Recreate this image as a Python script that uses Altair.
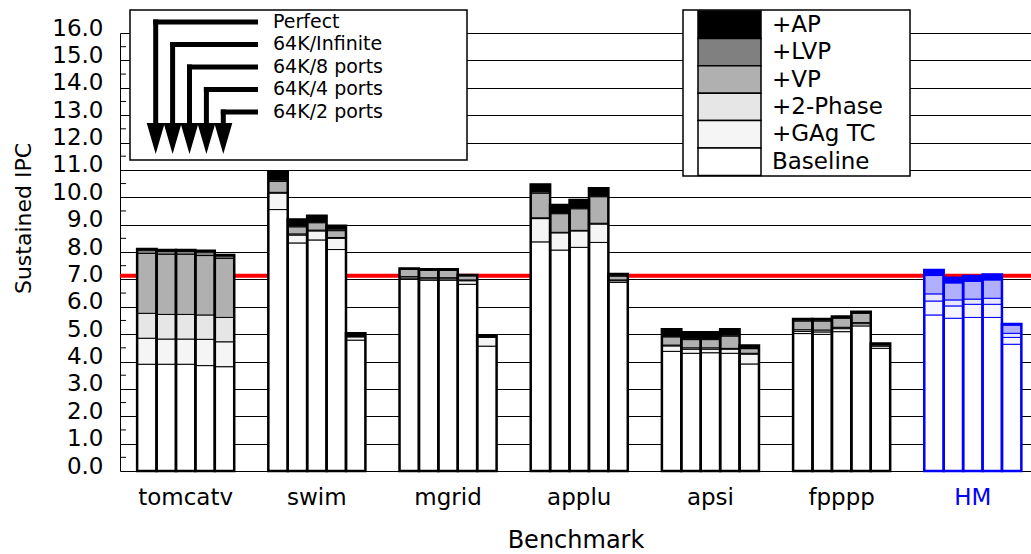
import altair as alt
import pandas as pd

# ---------------------------------------------------------------- data
BENCHMARKS = ["tomcatv", "swim", "mgrid", "applu", "apsi", "fpppp", "HM"]
CONFIGS = ["Perfect", "64K/Infinite", "64K/8 ports", "64K/4 ports", "64K/2 ports"]
SEGMENTS = ["Baseline", "+GAg TC", "+2-Phase", "+VP", "+LVP", "+AP"]

# Cumulative sustained IPC after each added technique.
# Five values per benchmark, in CONFIGS order.
BASELINE = [3.90, 3.90, 3.90, 3.85, 3.81,
            9.55, 8.33, 8.44, 8.09, 4.78,
            7.00, 6.97, 6.97, 6.82, 4.56,
            8.37, 8.07, 8.17, 8.35, 6.89,
            4.37, 4.30, 4.32, 4.30, 3.91,
            5.02, 4.99, 5.09, 5.30, 4.48,
            5.70, 5.58, 5.61, 5.61, 4.63]
GAG_TC = [4.85, 4.82, 4.82, 4.81, 4.72,
          10.15, 8.62, 8.77, 8.50, 4.90,
          7.05, 7.02, 7.02, 6.95, 4.88,
          9.22, 8.70, 8.77, 9.02, 6.95,
          4.57, 4.45, 4.45, 4.45, 4.27,
          5.10, 5.08, 5.20, 5.38, 4.56,
          6.21, 6.03, 6.09, 6.09, 4.88]
TWO_PHASE = [5.76, 5.72, 5.72, 5.70, 5.61,
             10.18, 8.66, 8.80, 8.53, 4.92,
             7.10, 7.06, 7.06, 6.98, 4.91,
             9.25, 8.72, 8.79, 9.05, 6.98,
             4.60, 4.50, 4.50, 4.48, 4.30,
             5.16, 5.15, 5.25, 5.42, 4.60,
             6.47, 6.25, 6.28, 6.31, 5.03]
VP = [7.95, 7.92, 7.92, 7.87, 7.77,
      10.58, 8.92, 9.07, 8.78, 4.93,
      7.37, 7.33, 7.33, 7.13, 4.92,
      10.15, 9.40, 9.58, 10.02, 7.12,
      4.90, 4.80, 4.80, 4.93, 4.47,
      5.48, 5.48, 5.58, 5.76, 4.62,
      7.14, 6.87, 6.93, 6.98, 5.33]
LVP = [8.07, 8.03, 8.03, 8.00, 7.86,
       10.63, 8.96, 9.11, 8.84, 4.95,
       7.39, 7.35, 7.35, 7.15, 4.93,
       10.20, 9.44, 9.62, 10.06, 7.16,
       4.93, 4.85, 4.84, 4.97, 4.50,
       5.52, 5.52, 5.61, 5.79, 4.64,
       7.16, 6.89, 6.95, 7.00, 5.35]
AP = [8.11, 8.07, 8.07, 8.05, 7.89,
      10.93, 9.19, 9.32, 8.96, 5.03,
      7.40, 7.37, 7.37, 7.16, 4.95,
      10.47, 9.72, 9.90, 10.33, 7.20,
      5.18, 5.07, 5.07, 5.18, 4.58,
      5.55, 5.55, 5.64, 5.82, 4.66,
      7.34, 7.06, 7.12, 7.18, 5.37]
LEVELS = [BASELINE, GAG_TC, TWO_PHASE, VP, LVP, AP]

TARGET_IPC = 7.13

# ---------------------------------------------------------------- styling
FONT = "DejaVu Sans"
W, H = 911, 438
GRAYS = ["#ffffff", "#f5f5f5", "#e6e6e6", "#b0b0b0", "#808080", "#000000"]
BLUES = ["#ffffff", "#f5f5ff", "#e6e6ff", "#b0b0ff", "#8080ff", "#0000ff"]

fill_scale = alt.Scale(domain=SEGMENTS + ["HM " + s for s in SEGMENTS],
                       range=GRAYS + BLUES)

# ---------------------------------------------------------------- tables
rows = []
tops = []
for b_i, bench in enumerate(BENCHMARKS):
    for c_i, cfg in enumerate(CONFIGS):
        k = b_i * len(CONFIGS) + c_i
        lo = 0.0
        for s_i, seg in enumerate(SEGMENTS):
            hi = LEVELS[s_i][k]
            key = ("HM " + seg) if bench == "HM" else seg
            rows.append(dict(benchmark=bench, config=cfg, segment=seg,
                             key=key, lo=lo, hi=hi))
            lo = hi
        tops.append(dict(benchmark=bench, config=cfg, top=lo))
seg_df = pd.DataFrame(rows)
top_df = pd.DataFrame(tops)

x_scale = alt.Scale(paddingInner=0.26, paddingOuter=0.102, align=0.64)
off_scale = alt.Scale(paddingInner=0, paddingOuter=0)
y_scale = alt.Scale(domain=[0, 16], nice=False)

x_axis = alt.Axis(
    title="Benchmark", labelAngle=0, labelFont=FONT, labelFontSize=23,
    labelColor={"condition": {"test": "datum.value === 'HM'", "value": "blue"},
                "value": "black"},
    labelPadding=26, labelBaseline="middle", ticks=False, tickSize=0,
    domain=False, titleFont=FONT, titleFontSize=24, titleFontWeight="normal",
    titleColor="black", titleY=69, titleBaseline="middle",
)
y_axis = alt.Axis(
    title="Sustained IPC", values=list(range(17)), format=".1f",
    grid=True, gridColor="black", gridWidth=1, gridOpacity=1,
    domain=True, domainColor="black", domainWidth=1,
    ticks=False, tickSize=0, labelFont=FONT, labelFontSize=23,
    labelColor="black", labelPadding=17, labelOffset=-5, labelOverlap=False,
    labelBaseline="middle", titleFont=FONT, titleFontSize=22,
    titleFontWeight="normal", titleColor="black", titleAngle=270,
    titleX=-97, titleY=185, titleAlign="center", titleBaseline="middle",
)

stroke_cond = alt.condition(alt.datum.benchmark == "HM",
                            alt.value("blue"), alt.value("black"))

X = alt.X("benchmark:N", sort=BENCHMARKS, scale=x_scale, axis=x_axis)
XO = alt.XOffset("config:N", sort=CONFIGS, scale=off_scale)

red = alt.Chart(pd.DataFrame({"ipc": [TARGET_IPC]})).mark_rule(
    color="#ff0000", strokeWidth=4
).encode(y=alt.Y("ipc:Q", scale=y_scale, axis=y_axis))

bars = alt.Chart(seg_df).mark_rect(strokeWidth=1).encode(
    x=X, xOffset=XO,
    y=alt.Y("lo:Q", scale=y_scale, axis=y_axis), y2="hi:Q",
    color=alt.Color("key:N", scale=fill_scale, legend=None),
    stroke=stroke_cond,
)

outline = alt.Chart(top_df).mark_rect(fillOpacity=0, strokeWidth=2.5).encode(
    x=X, xOffset=XO,
    y=alt.Y("top:Q", scale=y_scale, axis=y_axis), y2=alt.datum(0),
    stroke=stroke_cond,
)

# half-unit minor ticks pointing into the plot
minor = pd.DataFrame({"v": [i + 0.5 for i in range(16)]})
ticks = alt.Chart(minor).mark_rule(color="black", strokeWidth=1).encode(
    y=alt.Y("v:Q", scale=y_scale, axis=y_axis),
    x=alt.value(0), x2=alt.value(6),
)

main = alt.layer(red, bars, outline, ticks)

# ---------------------------------------------------------------- key boxes
def px(name):
    return alt.X(name, scale=None, axis=None)


def py(name):
    return alt.Y(name, scale=None, axis=None)


box_df = pd.DataFrame({"x1": [10, 563], "x2": [347, 790],
                       "y1": [-23, -23], "y2": [127, 143]})
boxes = alt.Chart(box_df).mark_rect(
    fill="white", stroke="black", strokeWidth=1.5
).encode(x=px("x1:Q"), x2="x2:Q", y=py("y1:Q"), y2="y2:Q")

arrow_rows = []
for i, cfg in enumerate(CONFIGS):
    xv = 35.7 + 16.9 * i
    yh = -11 + 22.5 * i
    arrow_rows.append(dict(config=cfg, xv=xv, xs=xv - 2.5, xe=138, yh=yh,
                           ys=yh - 2.5, ye=92, yhead=105.5, yt=yh - 0.5))
arrow_df = pd.DataFrame(arrow_rows)

h_shafts = alt.Chart(arrow_df).mark_rule(color="black", strokeWidth=5).encode(
    x=px("xs:Q"), x2="xe:Q", y=py("yh:Q"))
v_shafts = alt.Chart(arrow_df).mark_rule(color="black", strokeWidth=5).encode(
    x=px("xv:Q"), y=py("ys:Q"), y2="ye:Q")
heads = alt.Chart(arrow_df).mark_point(
    shape="M-1,-1.72L1,-1.72L0,1.72Z", size=324, filled=True,
    color="black", opacity=1
).encode(x=px("xv:Q"), y=py("yhead:Q"))
arrow_text = alt.Chart(arrow_df).mark_text(
    align="left", baseline="middle", font=FONT, fontSize=19, color="black"
).encode(x=alt.value(153), y=py("yt:Q"), text="config:N")

sw_rows = []
for j, seg in enumerate(reversed(SEGMENTS)):
    y1 = -22 + 27.4 * j
    sw_rows.append(dict(segment=seg, y1=y1, y2=y1 + 27.4, yc=y1 + 13.7))
sw_df = pd.DataFrame(sw_rows)

swatches = alt.Chart(sw_df).mark_rect(stroke="black", strokeWidth=1.5).encode(
    x=alt.value(578), x2=alt.value(641), y=py("y1:Q"), y2="y2:Q",
    color=alt.Color("segment:N", scale=fill_scale, legend=None),
)
sw_text = alt.Chart(sw_df).mark_text(
    align="left", baseline="middle", font=FONT, fontSize=23, color="black"
).encode(x=alt.value(652), y=py("yc:Q"), text="segment:N")

keys = alt.layer(boxes, h_shafts, v_shafts, heads, arrow_text, swatches, sw_text)

chart = alt.layer(main, keys).resolve_scale(
    x="independent", y="independent", color="independent"
).properties(
    width=W, height=H,
    autosize=alt.AutoSizeParams(type="none"),
    padding={"left": 120, "top": 33, "right": 0, "bottom": 83},
    background="white",
).configure_view(stroke=None)

chart.save("out.html", embed_options={"renderer": "svg", "actions": False})
